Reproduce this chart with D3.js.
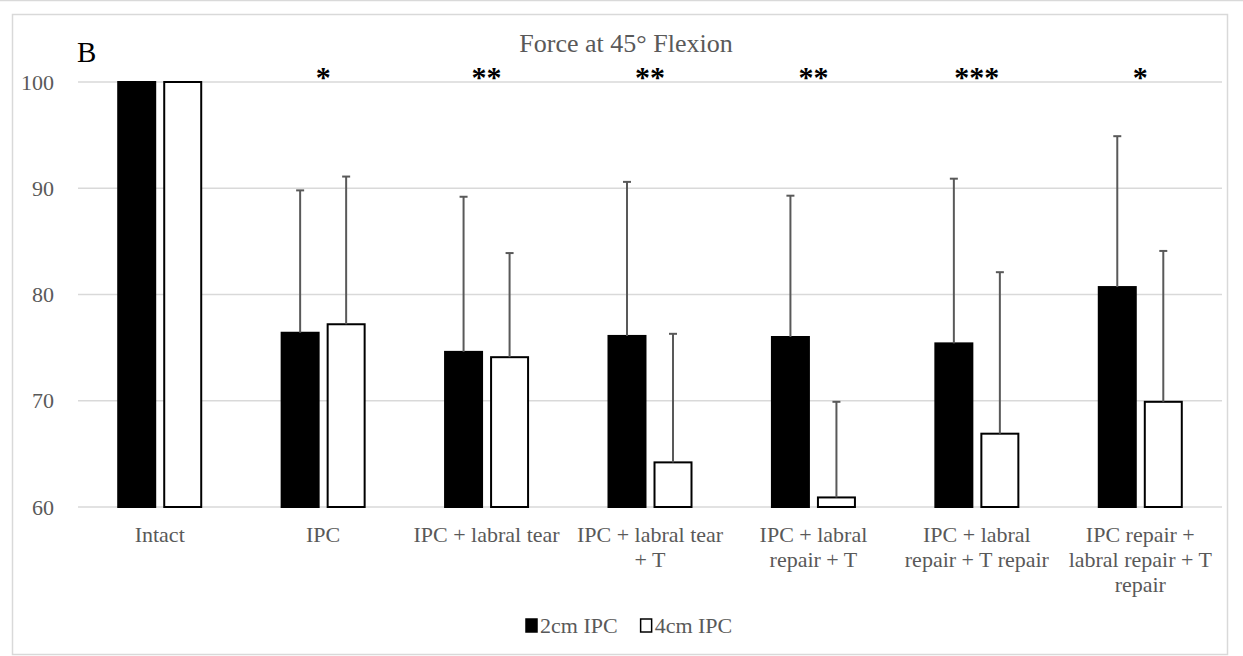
<!DOCTYPE html>
<html>
<head>
<meta charset="utf-8">
<script src="https://cdn.jsdelivr.net/npm/d3@7"></script>
<style>
  body { margin: 0; background: #fff; }
  text { font-family: "Liberation Serif", "Times New Roman", serif; }
</style>
</head>
<body>
<div id="myChart"></div>
<script>
// Data
var categories = ["Intact", "IPC", "IPC + labral tear", "IPC + labral tear\n+ T",
                  "IPC + labral\nrepair + T", "IPC + labral\nrepair + T repair",
                  "IPC repair +\nlabral repair + T\nrepair"];
var seriesNames = ["2cm IPC", "4cm IPC"];
var values2cm = [100, 76.4, 74.6, 76.1, 76.0, 75.4, 80.7];
var values4cm = [100, 77.2, 74.1, 64.2, 60.9, 66.9, 69.9];
var errTop2cm = [100, 89.8, 89.2, 90.6, 89.3, 90.9, 94.9];
var errTop4cm = [100, 91.1, 83.9, 76.3, 69.9, 82.1, 84.1];
var stars = ["", "*", "**", "**", "**", "***", "*"];
var yTicks = [60, 70, 80, 90, 100];

var W = 1243, H = 656;
var margin = {top: 82, right: 21, bottom: 149, left: 78},
    width = W - margin.left - margin.right,
    height = H - margin.top - margin.bottom;

var svg0 = d3.select("#myChart").append("svg")
    .attr("width", W).attr("height", H);

// Outer frame
svg0.append("line").attr("x1", 0).attr("x2", W).attr("y1", 0.5).attr("y2", 0.5)
    .attr("stroke", "#d9d9d9").attr("stroke-width", 1.5);
svg0.append("rect").attr("x", 12.5).attr("y", 14.5).attr("width", 1215).attr("height", 640)
    .attr("fill", "none").attr("stroke", "#d9d9d9").attr("stroke-width", 1.5);

var svg = svg0.append("g")
    .attr("transform", "translate(" + margin.left + "," + margin.top + ")");

var x0 = d3.scaleBand().domain(categories).range([0, width]).padding(0);
var x1 = d3.scaleBand().domain(seriesNames).range([0, x0.bandwidth()])
    .paddingInner(0.196).paddingOuter(0.874);
var y = d3.scaleLinear().domain([60, 100]).range([height, 0]);

// Gridlines
svg.append("g").selectAll("line").data(yTicks).enter().append("line")
    .attr("x1", 0).attr("x2", width)
    .attr("y1", function(d) { return y(d); }).attr("y2", function(d) { return y(d); })
    .attr("stroke", "#d9d9d9").attr("stroke-width", 1.5);

// Y axis
var yAxis = svg.append("g")
    .attr("transform", "translate(-21,0)")
    .call(d3.axisLeft(y).tickValues(yTicks).tickSize(0));
yAxis.select(".domain").remove();
yAxis.selectAll("text").attr("fill", "#595959")
    .style("font-size", "22px").style("font-family", "Liberation Serif");

// X axis
var xAxis = svg.append("g")
    .attr("transform", "translate(0," + height + ")")
    .call(d3.axisBottom(x0).tickSize(0));
xAxis.select(".domain").remove();
xAxis.selectAll("text").each(function(d) {
  var t = d3.select(this);
  var lines = d.split("\n");
  t.text(null).attr("y", 35).attr("dy", null)
    .attr("fill", "#595959")
    .style("font-size", "22px").style("font-family", "Liberation Serif");
  lines.forEach(function(l, i) {
    t.append("tspan").attr("x", 0).attr("y", 35 + i * 25).text(l);
  });
});

// Bars
var series = [{name: "2cm IPC", fill: "#000", values: values2cm, err: errTop2cm},
              {name: "4cm IPC", fill: "#fff", values: values4cm, err: errTop4cm}];

series.forEach(function(s) {
  var g = svg.append("g");
  g.selectAll("rect").data(s.values).enter().append("rect")
    .attr("x", function(d, i) { return x0(categories[i]) + x1(s.name); })
    .attr("y", function(d) { return y(d); })
    .attr("width", x1.bandwidth())
    .attr("height", function(d) { return height - y(d); })
    .attr("fill", s.fill)
    .attr("stroke", "#000").attr("stroke-width", 2);

  // Error bars (upper only)
  var eg = svg.append("g").attr("stroke", "#595959").attr("stroke-width", 2);
  s.err.forEach(function(e, i) {
    if (e <= s.values[i]) return;
    var cx = x0(categories[i]) + x1(s.name) + x1.bandwidth() / 2;
    eg.append("line").attr("x1", cx).attr("x2", cx)
      .attr("y1", y(s.values[i])).attr("y2", y(e));
    eg.append("line").attr("x1", cx - 4).attr("x2", cx + 4)
      .attr("y1", y(e)).attr("y2", y(e));
  });
});

// Significance stars
svg.append("g").selectAll("text").data(stars).enter().append("text")
  .attr("x", function(d, i) { return x0(categories[i]) + x0.bandwidth() / 2; })
  .attr("y", 5)
  .attr("text-anchor", "middle")
  .style("font-size", "30px").style("font-weight", "bold")
  .attr("fill", "#000")
  .text(function(d) { return d; });

// Title and panel letter
svg0.append("text").attr("x", 626).attr("y", 52).attr("text-anchor", "middle")
  .attr("fill", "#595959").style("font-size", "26px").text("Force at 45° Flexion");
svg0.append("text").attr("x", 77).attr("y", 62)
  .attr("fill", "#000").style("font-size", "29px").text("B");

// Legend
var legend = svg0.append("g").attr("transform", "translate(526,626)");
var lx = 0;
series.forEach(function(s) {
  legend.append("rect").attr("x", lx).attr("y", -7).attr("width", 11).attr("height", 13)
    .attr("fill", s.fill).attr("stroke", "#000").attr("stroke-width", 1.5);
  var t = legend.append("text").attr("x", lx + 14).attr("y", 7)
    .attr("fill", "#595959").style("font-size", "22px").text(s.name);
  lx += 14 + t.node().getComputedTextLength() + 23;
});
</script>
</body>
</html>
